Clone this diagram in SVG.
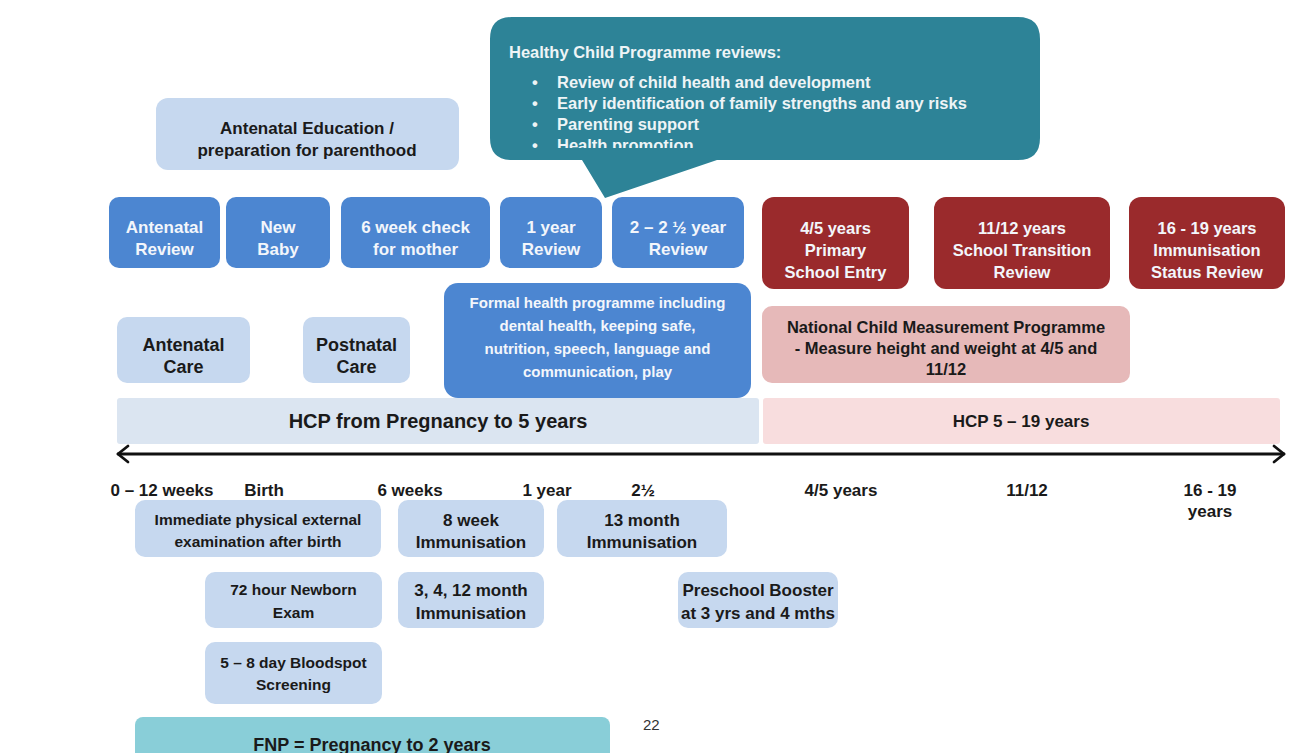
<svg xmlns="http://www.w3.org/2000/svg" width="1306" height="753" viewBox="0 0 1306 753">
<style>
text{font-family:"Liberation Sans",Arial,sans-serif;font-weight:bold;text-anchor:middle}
.blue{fill:#4C86D1}
.red{fill:#9A2A2C}
.lb{fill:#C6D8EF}
.pk{fill:#E6B9B9}
.w{fill:#F3F6FB}
.k{fill:#1A1A1A}
.s17{font-size:17px}
.s16{font-size:16.5px}
.s15{font-size:15.5px}
.s18{font-size:18px}
.bt{font-size:16.5px;fill:#EEF4F6;text-anchor:start}
.num{font-weight:normal;font-size:15px;fill:#333333;text-anchor:start}
</style>
<defs>
<clipPath id="bubbleClip"><rect x="490" y="17" width="550" height="131"/></clipPath>
</defs>
<rect width="1306" height="753" fill="#FFFFFF"/>

<g id="antenatal-education">
<rect class="lb" x="156" y="98" width="303" height="72" rx="12"/>
<text class="k s17" x="307" y="134">Antenatal Education /</text>
<text class="k s17" x="307" y="156">preparation for parenthood</text>
</g>

<g id="hcp-reviews-bubble">
<path fill="#2D8397" d="M512 17 H1018 Q1040 17 1040 39 V138 Q1040 160 1018 160 H717 L605 198 L582 160 H512 Q490 160 490 138 V39 Q490 17 512 17 Z"/>
<g clip-path="url(#bubbleClip)">
<text class="bt" x="509" y="58">Healthy Child Programme reviews:</text>
<text class="bt" x="532" y="88">•</text><text class="bt" x="557" y="88">Review of child health and development</text>
<text class="bt" x="532" y="109">•</text><text class="bt" x="557" y="109">Early identification of family strengths and any risks</text>
<text class="bt" x="532" y="130">•</text><text class="bt" x="557" y="130">Parenting support</text>
<text class="bt" x="532" y="151">•</text><text class="bt" x="557" y="151">Health promotion</text>
</g>
</g>

<g id="antenatal-review">
<rect class="blue" x="109" y="197" width="111" height="71" rx="10"/>
<text class="w s17" x="164.5" y="233">Antenatal</text>
<text class="w s17" x="164.5" y="255">Review</text>
</g>
<g id="new-baby">
<rect class="blue" x="226" y="197" width="104" height="71" rx="10"/>
<text class="w s17" x="278" y="233">New</text>
<text class="w s17" x="278" y="255">Baby</text>
</g>
<g id="six-week-check">
<rect class="blue" x="341" y="197" width="149" height="71" rx="10"/>
<text class="w s17" x="415.5" y="233">6 week check</text>
<text class="w s17" x="415.5" y="255">for mother</text>
</g>
<g id="one-year-review">
<rect class="blue" x="500" y="197" width="102" height="71" rx="10"/>
<text class="w s17" x="551" y="233">1 year</text>
<text class="w s17" x="551" y="255">Review</text>
</g>
<g id="two-year-review">
<rect class="blue" x="612" y="197" width="132" height="71" rx="10"/>
<text class="w s17" x="678" y="233">2 – 2 ½ year</text>
<text class="w s17" x="678" y="255">Review</text>
</g>

<g id="primary-school-entry">
<rect class="red" x="762" y="197" width="147" height="92" rx="12"/>
<text class="w s16" x="835.5" y="234">4/5 years</text>
<text class="w s16" x="835.5" y="256">Primary</text>
<text class="w s16" x="835.5" y="278">School Entry</text>
</g>
<g id="school-transition">
<rect class="red" x="934" y="197" width="176" height="92" rx="12"/>
<text class="w s16" x="1022" y="234">11/12 years</text>
<text class="w s16" x="1022" y="256">School Transition</text>
<text class="w s16" x="1022" y="278">Review</text>
</g>
<g id="immunisation-status">
<rect class="red" x="1129" y="197" width="156" height="92" rx="12"/>
<text class="w s16" x="1207" y="234">16 - 19 years</text>
<text class="w s16" x="1207" y="256">Immunisation</text>
<text class="w s16" x="1207" y="278">Status Review</text>
</g>

<g id="antenatal-care">
<rect class="lb" x="117" y="317" width="133" height="66" rx="10"/>
<text class="k s18" x="183.5" y="351">Antenatal</text>
<text class="k s18" x="183.5" y="373">Care</text>
</g>
<g id="postnatal-care">
<rect class="lb" x="303" y="317" width="107" height="66" rx="10"/>
<text class="k s18" x="356.5" y="351">Postnatal</text>
<text class="k s18" x="356.5" y="373">Care</text>
</g>
<g id="formal-health-programme">
<rect class="blue" x="444" y="283" width="307" height="115" rx="14"/>
<text class="w" font-size="15" x="597.5" y="308">Formal health programme including</text>
<text class="w" font-size="15" x="597.5" y="331">dental health, keeping safe,</text>
<text class="w" font-size="15" x="597.5" y="354">nutrition, speech, language and</text>
<text class="w" font-size="15" x="597.5" y="377">communication, play</text>
</g>
<g id="ncmp">
<rect class="pk" x="762" y="306" width="368" height="77" rx="10"/>
<text class="k s16" x="946" y="333">National Child Measurement Programme</text>
<text class="k s16" x="946" y="354">- Measure height and weight at 4/5 and</text>
<text class="k s16" x="946" y="375">11/12</text>
</g>

<g id="hcp-pregnancy-to-5">
<rect fill="#DBE5F1" x="117" y="398" width="642" height="46" rx="3"/>
<text class="k" font-size="20" x="438" y="428">HCP from Pregnancy to 5 years</text>
</g>
<g id="hcp-5-to-19">
<rect fill="#F8DDDE" x="763" y="398" width="517" height="46" rx="3"/>
<text class="k" font-size="17" x="1021" y="427">HCP 5 – 19 years</text>
</g>

<g id="connectors" fill="none" stroke="#111111" stroke-width="2.8" stroke-linecap="round" stroke-linejoin="round">
<line x1="118" y1="454" x2="1284" y2="454"/>
<polyline points="128,446 118,454 128,462"/>
<polyline points="1274,446 1284,454 1274,462"/>
</g>

<g id="timeline-labels">
<text class="k s17" x="162" y="496">0 – 12 weeks</text>
<text class="k s17" x="264" y="496">Birth</text>
<text class="k s17" x="410" y="496">6 weeks</text>
<text class="k s17" x="547" y="496">1 year</text>
<text class="k s17" x="643" y="496">2½</text>
<text class="k s17" x="841" y="496">4/5 years</text>
<text class="k s17" x="1027" y="496">11/12</text>
<text class="k s17" x="1210" y="496">16 - 19</text>
<text class="k s17" x="1210" y="517">years</text>
</g>

<g id="immediate-examination">
<rect class="lb" x="135" y="500" width="246" height="57" rx="10"/>
<text class="k s15" x="258" y="525">Immediate physical external</text>
<text class="k s15" x="258" y="547">examination after birth</text>
</g>
<g id="eight-week-immunisation">
<rect class="lb" x="398" y="500" width="146" height="57" rx="10"/>
<text class="k s17" x="471" y="526">8 week</text>
<text class="k s17" x="471" y="548">Immunisation</text>
</g>
<g id="thirteen-month-immunisation">
<rect class="lb" x="557" y="500" width="170" height="57" rx="10"/>
<text class="k s17" x="642" y="526">13 month</text>
<text class="k s17" x="642" y="548">Immunisation</text>
</g>
<g id="newborn-exam">
<rect class="lb" x="205" y="572" width="177" height="56" rx="10"/>
<text class="k s15" x="293.5" y="595">72 hour Newborn</text>
<text class="k s15" x="293.5" y="618">Exam</text>
</g>
<g id="month-immunisation">
<rect class="lb" x="398" y="572" width="146" height="56" rx="10"/>
<text class="k s17" x="471" y="596">3, 4, 12 month</text>
<text class="k s17" x="471" y="619">Immunisation</text>
</g>
<g id="preschool-booster">
<rect class="lb" x="678" y="572" width="160" height="56" rx="10"/>
<text class="k s17" x="758" y="596">Preschool Booster</text>
<text class="k s17" x="758" y="619">at 3 yrs and 4 mths</text>
</g>
<g id="bloodspot-screening">
<rect class="lb" x="205" y="642" width="177" height="62" rx="10"/>
<text class="k s15" x="293.5" y="668">5 – 8 day Bloodspot</text>
<text class="k s15" x="293.5" y="690">Screening</text>
</g>
<g id="fnp">
<rect fill="#89CED8" x="135" y="717" width="475" height="50" rx="8"/>
<text class="k s18" x="372" y="751">FNP = Pregnancy to 2 years</text>
</g>
<text class="num" x="643" y="730">22</text>
</svg>
